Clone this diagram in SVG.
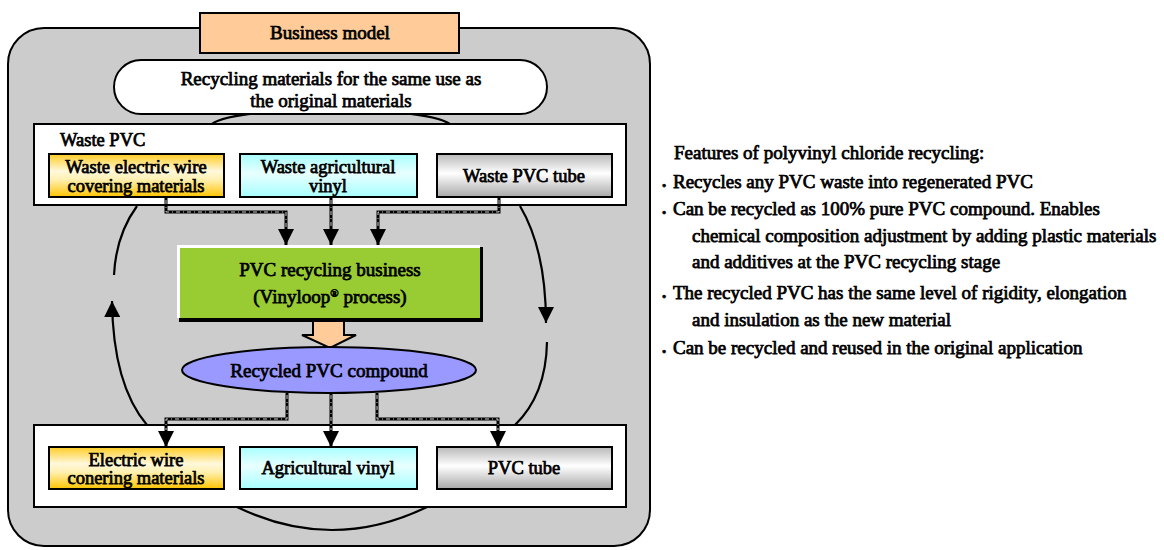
<svg xmlns="http://www.w3.org/2000/svg" width="1164" height="550" viewBox="0 0 1164 550">
<style>
text{font-family:"Liberation Serif","Times New Roman",serif;fill:#000;stroke:#000;stroke-width:0.75}
.c{text-anchor:middle}
.t19{font-size:19px}
.t18{font-size:18.5px}
.box{stroke:#000;stroke-width:2}
.arc{fill:none;stroke:#000;stroke-width:2.2}
.dl{fill:none;stroke:#000;stroke-width:3}
.dw{fill:none;stroke:#fff;stroke-width:0.8;stroke-dasharray:4 3 1 3}
</style>
<defs>
<linearGradient id="gy" x1="0" y1="0" x2="0" y2="1">
<stop offset="0" stop-color="#ffcc22"/><stop offset="0.4" stop-color="#fff8dc"/><stop offset="0.6" stop-color="#fff0b0"/><stop offset="1" stop-color="#ffc400"/>
</linearGradient>
<linearGradient id="gc" x1="0" y1="0" x2="0" y2="1">
<stop offset="0" stop-color="#a8ffff"/><stop offset="0.45" stop-color="#e8ffff"/><stop offset="1" stop-color="#a8ffff"/>
</linearGradient>
<linearGradient id="gg" x1="0" y1="0" x2="0" y2="1">
<stop offset="0" stop-color="#b8b8b8"/><stop offset="0.45" stop-color="#ffffff"/><stop offset="1" stop-color="#a8a8a8"/>
</linearGradient>
<marker id="ah2" viewBox="0 0 16 16" refX="16" refY="8" markerWidth="16" markerHeight="16" markerUnits="userSpaceOnUse" orient="auto">
<path d="M0,0 L16,8 L0,16 z" fill="#000"/>
</marker>
</defs>

<g id="frame">
<rect x="8" y="28" width="642" height="518" rx="36" fill="#cccccc" stroke="#000" stroke-width="2"/>
</g>

<g id="cycle-arcs">
<path class="arc" d="M210,126 C225,104 435,104 452,126"/>
<path class="arc" d="M137,206 Q116,235 114,275"/>
<path class="arc" d="M147,425 Q113,385 112,301" marker-end="url(#ah2)"/>
<path class="arc" d="M520,206 Q546,250 546,323" marker-end="url(#ah2)"/>
<path class="arc" d="M547,342 Q546,395 515,425"/>
<path class="arc" d="M237,507 Q332,553 427,507"/>
</g>

<g id="header">
<rect class="box" x="200" y="13" width="259" height="40" fill="#ffcc99"/>
<text class="c t19" x="330" y="39">Business model</text>
</g>

<g id="goal">
<rect class="box" x="114" y="60" width="433" height="54" rx="27" fill="#fff"/>
<text class="c t19" x="331" y="85">Recycling materials for the same use as</text>
<text class="c t19" x="331" y="107">the original materials</text>
</g>

<g id="waste-pvc">
<rect class="box" x="34" y="124" width="592" height="81" fill="#fff"/>
<text class="t18" x="60" y="146">Waste PVC</text>
</g>
<g id="waste-wire">
<rect class="box" x="49" y="154" width="175" height="43" fill="url(#gy)"/>
<text class="c t18" x="136" y="173">Waste electric wire</text>
<text class="c t18" x="136" y="192">covering materials</text>
</g>
<g id="waste-agri">
<rect class="box" x="240" y="154" width="177" height="43" fill="url(#gc)"/>
<text class="c t18" x="328" y="173">Waste agricultural</text>
<text class="c t18" x="328" y="192">vinyl</text>
</g>
<g id="waste-tube">
<rect class="box" x="437" y="154" width="175" height="43" fill="url(#gg)"/>
<text class="c t18" x="524" y="182">Waste PVC tube</text>
</g>

<g id="recycling-business">
<rect x="179" y="247" width="304" height="75" fill="#000"/>
<rect x="177" y="245" width="303" height="73" fill="#fff"/>
<rect x="180" y="248" width="300" height="70" fill="#99cc33"/>
<text class="c t19" x="330" y="276">PVC recycling business</text>
<text class="c t19" x="330" y="303">(Vinyloop<tspan font-size="11" dy="-6">®</tspan><tspan dy="6"> process)</tspan></text>
</g>

<g id="block-arrow">
<path d="M313,321 L344,321 L344,335 L356,335 L330,348 L302,335 L313,335 z" fill="#ffcc99" stroke="#000" stroke-width="2" stroke-linejoin="miter"/>
</g>

<g id="compound">
<ellipse cx="329" cy="370" rx="147" ry="23" fill="#9999ff" stroke="#000" stroke-width="2"/>
<text class="c t19" x="329" y="377">Recycled PVC compound</text>
</g>

<g id="products">
<rect class="box" x="34" y="425" width="592" height="82" fill="#fff"/>
</g>
<g id="prod-wire">
<rect class="box" x="49" y="447" width="175" height="42" fill="url(#gy)"/>
<text class="c t18" x="136" y="466">Electric wire</text>
<text class="c t18" x="136" y="484">conering materials</text>
</g>
<g id="prod-agri">
<rect class="box" x="240" y="447" width="177" height="42" fill="url(#gc)"/>
<text class="c t18" x="328" y="474">Agricultural vinyl</text>
</g>
<g id="prod-tube">
<rect class="box" x="437" y="447" width="175" height="42" fill="url(#gg)"/>
<text class="c t18" x="524" y="474">PVC tube</text>
</g>

<g id="connectors">
<path class="dl" d="M166,198 V212 H286 V245" marker-end="url(#ah2)"/>
<path class="dw" d="M166,200 V212 H286 V228"/>
<path class="dl" d="M331,198 V245" marker-end="url(#ah2)"/>
<path class="dw" d="M331,200 V228"/>
<path class="dl" d="M499,198 V212 H378 V245" marker-end="url(#ah2)"/>
<path class="dw" d="M499,200 V212 H378 V228"/>
<path class="dl" d="M287,393 V419 H166 V447" marker-end="url(#ah2)"/>
<path class="dw" d="M287,395 V419 H166 V430"/>
<path class="dl" d="M331,393 V447" marker-end="url(#ah2)"/>
<path class="dw" d="M331,395 V430"/>
<path class="dl" d="M377,393 V419 H498 V447" marker-end="url(#ah2)"/>
<path class="dw" d="M377,395 V419 H498 V430"/>
</g>

<g id="features">
<text class="t19" x="674" y="159">Features of polyvinyl chloride recycling:</text>
<text x="662" y="190" font-size="12">•</text>
<text class="t19" x="673" y="188">Recycles any PVC waste into regenerated PVC</text>
<text x="662" y="217" font-size="12">•</text>
<text class="t19" x="673" y="215">Can be recycled as 100% pure PVC compound. Enables</text>
<text class="t19" x="692" y="242">chemical composition adjustment by adding plastic materials</text>
<text class="t19" x="692" y="268">and additives at the PVC recycling stage</text>
<text x="662" y="301" font-size="12">•</text>
<text class="t19" x="673" y="299">The recycled PVC has the same level of rigidity, elongation</text>
<text class="t19" x="692" y="326">and insulation as the new material</text>
<text x="662" y="356" font-size="12">•</text>
<text class="t19" x="673" y="354">Can be recycled and reused in the original application</text>
</g>
</svg>
